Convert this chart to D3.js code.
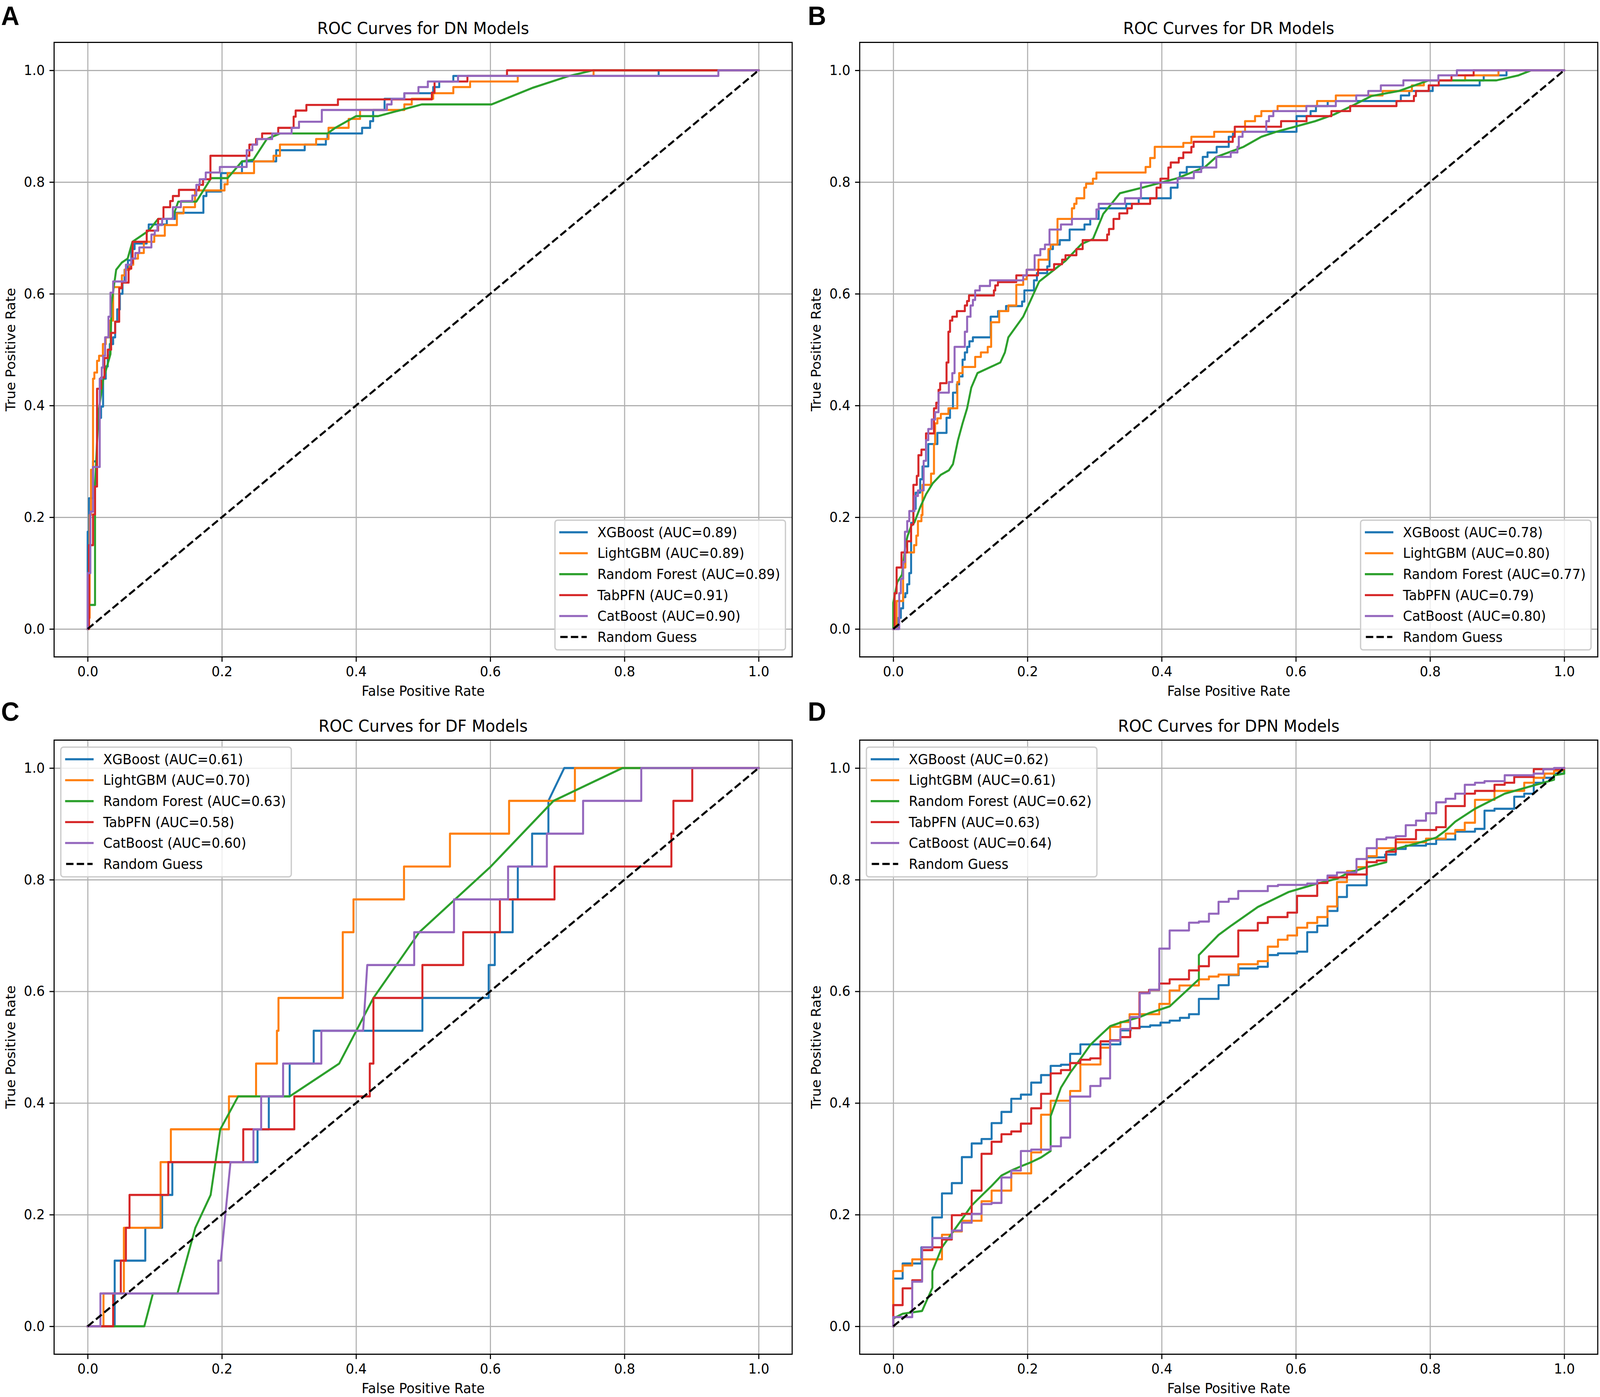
<!DOCTYPE html>
<html><head><meta charset="utf-8">
<script src="https://cdn.jsdelivr.net/npm/d3@7"></script>
<style>html,body{margin:0;padding:0;background:#fff;width:100%;height:100%;overflow:hidden}svg{display:block;width:100vw;height:100vh}</style>
</head><body>
<svg id="chart" viewBox="0 0 4288 3576" preserveAspectRatio="none"></svg>
<script>
// ---------------- DATA ----------------
const modelNames = ["XGBoost", "LightGBM", "Random Forest", "TabPFN", "CatBoost"];
const guessLabel = "Random Guess";
const panelTitles = ["ROC Curves for DN Models", "ROC Curves for DR Models", "ROC Curves for DF Models", "ROC Curves for DPN Models"];
const panelLetters = ["A", "B", "C", "D"];
const axisLabelX = "False Positive Rate";
const axisLabelY = "True Positive Rate";
const tickValues = [0, 0.2, 0.4, 0.6, 0.8, 1.0];
const aucDN  = [0.89, 0.89, 0.89, 0.91, 0.90];
const aucDR  = [0.78, 0.80, 0.77, 0.79, 0.80];
const aucDF  = [0.61, 0.70, 0.63, 0.58, 0.60];
const aucDPN = [0.62, 0.61, 0.62, 0.63, 0.64];
const guessLine = [[0, 0], [1, 1]];

// DN panel (fpr, tpr)
const dnXGBoost = [[0,0],[0,0.174],[0.002,0.174],[0.002,0.234],[0.008,0.234],[0.008,0.3],[0.014,0.3],[0.014,0.378],[0.02,0.378],[0.02,0.398],[0.023,0.398],[0.023,0.448],[0.027,0.448],[0.027,0.47],[0.03,0.47],[0.03,0.49],[0.033,0.49],[0.033,0.51],[0.038,0.51],[0.038,0.522],[0.041,0.522],[0.041,0.55],[0.044,0.55],[0.044,0.572],[0.048,0.572],[0.048,0.6],[0.052,0.6],[0.052,0.62],[0.055,0.62],[0.055,0.643],[0.06,0.643],[0.06,0.66],[0.065,0.66],[0.065,0.68],[0.07,0.68],[0.07,0.69],[0.088,0.69],[0.088,0.713],[0.091,0.713],[0.091,0.724],[0.118,0.724],[0.118,0.734],[0.13,0.734],[0.13,0.745],[0.1725,0.745],[0.1725,0.775],[0.177,0.775],[0.177,0.783],[0.1986,0.783],[0.1986,0.816],[0.23,0.816],[0.23,0.837],[0.281,0.837],[0.281,0.857],[0.3235,0.857],[0.3235,0.867],[0.355,0.867],[0.355,0.877],[0.3575,0.877],[0.3575,0.887],[0.409,0.887],[0.409,0.897],[0.421,0.897],[0.421,0.909],[0.4255,0.909],[0.4255,0.929],[0.4425,0.929],[0.4425,0.949],[0.472,0.949],[0.472,0.959],[0.515,0.959],[0.515,0.97],[0.524,0.97],[0.524,0.98],[0.545,0.98],[0.545,0.99],[0.851,0.99],[0.851,1],[1,1]];
const dnLightGBM = [[0,0],[0.002,0],[0.002,0.02],[0.003,0.02],[0.003,0.204],[0.005,0.204],[0.005,0.285],[0.008,0.285],[0.008,0.448],[0.01,0.448],[0.01,0.459],[0.014,0.459],[0.014,0.48],[0.017,0.48],[0.017,0.489],[0.0227,0.489],[0.0227,0.51],[0.027,0.51],[0.027,0.522],[0.0326,0.522],[0.0326,0.552],[0.038,0.552],[0.038,0.612],[0.051,0.612],[0.051,0.633],[0.0553,0.633],[0.0553,0.643],[0.0624,0.643],[0.0624,0.652],[0.068,0.652],[0.068,0.663],[0.075,0.663],[0.075,0.673],[0.0837,0.673],[0.0837,0.693],[0.0993,0.693],[0.0993,0.704],[0.115,0.704],[0.115,0.723],[0.133,0.723],[0.133,0.744],[0.143,0.744],[0.143,0.755],[0.16,0.755],[0.16,0.785],[0.204,0.785],[0.204,0.796],[0.2086,0.796],[0.2086,0.816],[0.248,0.816],[0.248,0.837],[0.277,0.837],[0.277,0.847],[0.2866,0.847],[0.2866,0.867],[0.3405,0.867],[0.3405,0.877],[0.359,0.877],[0.359,0.897],[0.389,0.897],[0.389,0.913],[0.406,0.913],[0.406,0.929],[0.472,0.929],[0.472,0.939],[0.483,0.939],[0.483,0.949],[0.515,0.949],[0.515,0.959],[0.545,0.959],[0.545,0.97],[0.57,0.97],[0.57,0.98],[0.641,0.98],[0.641,0.99],[0.754,0.99],[0.754,1],[1,1]];
const dnRandomForest = [[0,0],[0.001,0.043],[0.011,0.043],[0.011,0.258],[0.0142,0.338],[0.017,0.395],[0.023,0.445],[0.03,0.475],[0.034,0.492],[0.0355,0.582],[0.0425,0.643],[0.051,0.656],[0.0596,0.663],[0.0667,0.693],[0.091,0.713],[0.105,0.734],[0.126,0.734],[0.135,0.765],[0.162,0.765],[0.184,0.807],[0.2086,0.807],[0.23,0.837],[0.247,0.84],[0.267,0.877],[0.287,0.887],[0.3575,0.887],[0.369,0.897],[0.4,0.918],[0.433,0.918],[0.498,0.939],[0.602,0.939],[0.664,0.969],[0.715,0.989],[0.753,1],[1,1]];
const dnTabPFN = [[0,0],[0.002,0],[0.002,0.15],[0.008,0.15],[0.008,0.205],[0.011,0.205],[0.011,0.255],[0.014,0.255],[0.014,0.43],[0.02,0.43],[0.02,0.45],[0.025,0.45],[0.025,0.485],[0.03,0.485],[0.03,0.5],[0.035,0.5],[0.035,0.53],[0.041,0.53],[0.041,0.55],[0.047,0.55],[0.047,0.61],[0.051,0.61],[0.051,0.62],[0.061,0.62],[0.061,0.645],[0.065,0.645],[0.065,0.655],[0.067,0.655],[0.067,0.693],[0.088,0.693],[0.088,0.713],[0.105,0.713],[0.105,0.734],[0.113,0.734],[0.113,0.755],[0.123,0.755],[0.123,0.766],[0.127,0.766],[0.127,0.775],[0.136,0.775],[0.136,0.786],[0.166,0.786],[0.166,0.795],[0.172,0.795],[0.172,0.805],[0.183,0.805],[0.183,0.847],[0.241,0.847],[0.241,0.867],[0.251,0.867],[0.251,0.877],[0.26,0.877],[0.26,0.887],[0.284,0.887],[0.284,0.897],[0.307,0.897],[0.307,0.917],[0.31,0.917],[0.31,0.928],[0.326,0.928],[0.326,0.938],[0.373,0.938],[0.373,0.948],[0.513,0.948],[0.513,0.96],[0.517,0.96],[0.517,0.98],[0.566,0.98],[0.566,0.99],[0.625,0.99],[0.625,1],[1,1]];
const dnCatBoost = [[0,0],[0,0.1],[0.004,0.1],[0.004,0.21],[0.008,0.21],[0.008,0.29],[0.018,0.29],[0.018,0.448],[0.021,0.448],[0.021,0.468],[0.023,0.468],[0.023,0.489],[0.026,0.489],[0.026,0.522],[0.031,0.522],[0.031,0.559],[0.034,0.559],[0.034,0.602],[0.038,0.602],[0.038,0.622],[0.057,0.622],[0.057,0.652],[0.065,0.652],[0.065,0.663],[0.071,0.663],[0.071,0.673],[0.077,0.673],[0.077,0.683],[0.095,0.683],[0.095,0.706],[0.1,0.706],[0.1,0.713],[0.104,0.713],[0.104,0.723],[0.111,0.723],[0.111,0.734],[0.127,0.734],[0.127,0.755],[0.139,0.755],[0.139,0.766],[0.156,0.766],[0.156,0.776],[0.162,0.776],[0.162,0.795],[0.167,0.795],[0.167,0.805],[0.176,0.805],[0.176,0.817],[0.197,0.817],[0.197,0.827],[0.237,0.827],[0.237,0.857],[0.2455,0.857],[0.2455,0.867],[0.2525,0.867],[0.2525,0.877],[0.275,0.877],[0.275,0.887],[0.304,0.887],[0.304,0.897],[0.315,0.897],[0.315,0.908],[0.349,0.908],[0.349,0.929],[0.446,0.929],[0.446,0.939],[0.453,0.939],[0.453,0.949],[0.472,0.949],[0.472,0.959],[0.493,0.959],[0.493,0.97],[0.507,0.97],[0.507,0.98],[0.552,0.98],[0.552,0.99],[0.94,0.99],[0.94,1],[1,1]];

// DR panel
const drXGBoost = [[0,0],[0.008,0],[0.008,0.02],[0.0113,0.02],[0.0113,0.037],[0.0147,0.037],[0.0147,0.057],[0.0181,0.057],[0.0181,0.064],[0.0208,0.064],[0.0208,0.08],[0.0239,0.08],[0.0239,0.1],[0.0266,0.1],[0.0266,0.19],[0.03,0.19],[0.03,0.215],[0.0334,0.215],[0.0334,0.244],[0.0402,0.244],[0.0402,0.268],[0.0436,0.268],[0.0436,0.291],[0.0522,0.291],[0.0522,0.331],[0.0658,0.331],[0.0658,0.351],[0.0794,0.351],[0.0794,0.378],[0.0846,0.378],[0.0846,0.395],[0.089,0.395],[0.089,0.423],[0.0948,0.423],[0.0948,0.438],[0.0982,0.438],[0.0982,0.452],[0.1033,0.452],[0.1033,0.482],[0.1067,0.482],[0.1067,0.495],[0.1101,0.495],[0.1101,0.505],[0.1135,0.505],[0.1135,0.515],[0.1187,0.515],[0.1187,0.522],[0.1452,0.522],[0.1452,0.559],[0.1562,0.559],[0.1562,0.569],[0.1681,0.569],[0.1681,0.578],[0.192,0.578],[0.192,0.586],[0.1954,0.586],[0.1954,0.606],[0.2097,0.606],[0.2097,0.624],[0.2141,0.624],[0.2141,0.637],[0.2295,0.637],[0.2295,0.649],[0.2329,0.649],[0.2329,0.68],[0.238,0.68],[0.238,0.688],[0.2482,0.688],[0.2482,0.696],[0.2629,0.696],[0.2629,0.715],[0.285,0.715],[0.285,0.724],[0.2936,0.724],[0.2936,0.734],[0.3062,0.734],[0.3062,0.753],[0.3471,0.753],[0.3471,0.761],[0.3658,0.761],[0.3658,0.771],[0.4136,0.771],[0.4136,0.79],[0.4238,0.79],[0.4238,0.806],[0.4272,0.806],[0.4272,0.817],[0.4374,0.817],[0.4374,0.827],[0.4613,0.827],[0.4613,0.845],[0.4684,0.845],[0.4684,0.853],[0.482,0.853],[0.482,0.863],[0.5,0.863],[0.5,0.881],[0.5063,0.881],[0.5063,0.89],[0.601,0.89],[0.601,0.918],[0.622,0.918],[0.622,0.927],[0.63,0.927],[0.63,0.936],[0.6475,0.936],[0.6475,0.945],[0.7565,0.945],[0.7565,0.955],[0.769,0.955],[0.769,0.963],[0.804,0.963],[0.804,0.973],[0.874,0.973],[0.874,0.982],[0.88,0.982],[0.88,0.991],[0.914,0.991],[0.914,1],[1,1]];
const drLightGBM = [[0,0],[0.005,0],[0.005,0.05],[0.0147,0.05],[0.0147,0.11],[0.0181,0.11],[0.0181,0.137],[0.031,0.137],[0.031,0.15],[0.0344,0.15],[0.0344,0.167],[0.0368,0.167],[0.0368,0.193],[0.042,0.193],[0.042,0.204],[0.0436,0.204],[0.0436,0.258],[0.0563,0.258],[0.0563,0.278],[0.0607,0.278],[0.0607,0.331],[0.0624,0.331],[0.0624,0.368],[0.0658,0.368],[0.0658,0.377],[0.0709,0.377],[0.0709,0.385],[0.0822,0.385],[0.0822,0.395],[0.0955,0.395],[0.0955,0.442],[0.0982,0.442],[0.0982,0.458],[0.1033,0.458],[0.1033,0.469],[0.1221,0.469],[0.1221,0.487],[0.1306,0.487],[0.1306,0.495],[0.1408,0.495],[0.1408,0.505],[0.1459,0.505],[0.1459,0.549],[0.1579,0.549],[0.1579,0.569],[0.1715,0.569],[0.1715,0.579],[0.1834,0.579],[0.1834,0.616],[0.1937,0.616],[0.1937,0.626],[0.1988,0.626],[0.1988,0.643],[0.2165,0.643],[0.2165,0.661],[0.2312,0.661],[0.2312,0.68],[0.2346,0.68],[0.2346,0.688],[0.2448,0.688],[0.2448,0.734],[0.2663,0.734],[0.2663,0.753],[0.2697,0.753],[0.2697,0.761],[0.2731,0.761],[0.2731,0.771],[0.2847,0.771],[0.2847,0.79],[0.2874,0.79],[0.2874,0.797],[0.2976,0.797],[0.2976,0.806],[0.3028,0.806],[0.3028,0.817],[0.3761,0.817],[0.3761,0.827],[0.3829,0.827],[0.3829,0.843],[0.3897,0.843],[0.3897,0.863],[0.4323,0.863],[0.4323,0.87],[0.4443,0.87],[0.4443,0.881],[0.4783,0.881],[0.4783,0.89],[0.5243,0.89],[0.5243,0.909],[0.5392,0.909],[0.5392,0.918],[0.5486,0.918],[0.5486,0.927],[0.5728,0.927],[0.5728,0.936],[0.6317,0.936],[0.6317,0.945],[0.6596,0.945],[0.6596,0.955],[0.7293,0.955],[0.7293,0.963],[0.773,0.963],[0.773,0.973],[0.7908,0.973],[0.7908,0.982],[0.8523,0.982],[0.8523,0.991],[0.902,0.991],[0.902,1],[1,1]];
const drRandomForest = [[0,0],[0,0.047],[0.0061,0.084],[0.013,0.097],[0.0181,0.15],[0.0215,0.167],[0.0266,0.184],[0.0317,0.191],[0.0402,0.218],[0.0488,0.241],[0.059,0.261],[0.0709,0.276],[0.0829,0.284],[0.089,0.295],[0.0965,0.338],[0.1033,0.368],[0.1101,0.395],[0.1163,0.432],[0.1255,0.458],[0.1596,0.477],[0.1664,0.495],[0.1715,0.522],[0.1937,0.559],[0.2175,0.622],[0.2397,0.643],[0.2567,0.659],[0.2806,0.689],[0.2976,0.698],[0.313,0.743],[0.3379,0.78],[0.371,0.79],[0.4238,0.807],[0.4647,0.827],[0.4815,0.845],[0.522,0.863],[0.5486,0.881],[0.571,0.89],[0.629,0.909],[0.657,0.921],[0.6865,0.938],[0.7126,0.954],[0.7535,0.963],[0.798,0.982],[0.899,0.982],[0.932,0.991],[0.951,1],[1,1]];
const drTabPFN = [[0,0],[0.002,0],[0.002,0.064],[0.005,0.064],[0.005,0.11],[0.0123,0.11],[0.0123,0.137],[0.0208,0.137],[0.0208,0.157],[0.0266,0.157],[0.0266,0.187],[0.03,0.187],[0.03,0.258],[0.0351,0.258],[0.0351,0.274],[0.0375,0.274],[0.0375,0.311],[0.042,0.311],[0.042,0.321],[0.0488,0.321],[0.0488,0.35],[0.0607,0.35],[0.0607,0.395],[0.0641,0.395],[0.0641,0.405],[0.0675,0.405],[0.0675,0.428],[0.0699,0.428],[0.0699,0.44],[0.0794,0.44],[0.0794,0.477],[0.0822,0.477],[0.0822,0.532],[0.0846,0.532],[0.0846,0.552],[0.088,0.552],[0.088,0.559],[0.0948,0.559],[0.0948,0.569],[0.1067,0.569],[0.1067,0.579],[0.11,0.579],[0.11,0.587],[0.1129,0.587],[0.1129,0.597],[0.15,0.597],[0.15,0.606],[0.152,0.606],[0.152,0.615],[0.156,0.615],[0.156,0.621],[0.1834,0.621],[0.1834,0.633],[0.2158,0.633],[0.2158,0.643],[0.2397,0.643],[0.2397,0.653],[0.2516,0.653],[0.2516,0.661],[0.2567,0.661],[0.2567,0.669],[0.273,0.669],[0.273,0.68],[0.2823,0.68],[0.2823,0.696],[0.3188,0.696],[0.3188,0.706],[0.3215,0.706],[0.3215,0.716],[0.3283,0.716],[0.3283,0.734],[0.3369,0.734],[0.3369,0.744],[0.3488,0.744],[0.3488,0.753],[0.3556,0.753],[0.3556,0.761],[0.3829,0.761],[0.3829,0.771],[0.3924,0.771],[0.3924,0.79],[0.3982,0.79],[0.3982,0.806],[0.41,0.806],[0.41,0.826],[0.4136,0.826],[0.4136,0.835],[0.4255,0.835],[0.4255,0.843],[0.4323,0.843],[0.4323,0.853],[0.4443,0.853],[0.4443,0.863],[0.4477,0.863],[0.4477,0.872],[0.506,0.872],[0.506,0.881],[0.509,0.881],[0.509,0.899],[0.578,0.899],[0.578,0.909],[0.616,0.909],[0.616,0.918],[0.653,0.918],[0.653,0.927],[0.681,0.927],[0.681,0.936],[0.75,0.936],[0.75,0.945],[0.776,0.945],[0.776,0.954],[0.779,0.954],[0.779,0.963],[0.798,0.963],[0.798,0.973],[0.813,0.973],[0.813,0.982],[0.832,0.982],[0.832,0.991],[0.865,0.991],[0.865,1],[1,1]];
const drCatBoost = [[0,0],[0.0089,0],[0.0089,0.064],[0.0113,0.064],[0.0113,0.09],[0.0147,0.09],[0.0147,0.12],[0.0174,0.12],[0.0174,0.174],[0.0208,0.174],[0.0208,0.193],[0.0239,0.193],[0.0239,0.211],[0.0317,0.211],[0.0317,0.238],[0.0368,0.238],[0.0368,0.248],[0.0453,0.248],[0.0453,0.301],[0.0488,0.301],[0.0488,0.338],[0.0522,0.338],[0.0522,0.358],[0.0573,0.358],[0.0573,0.375],[0.0624,0.375],[0.0624,0.388],[0.0675,0.388],[0.0675,0.423],[0.0829,0.423],[0.0829,0.442],[0.088,0.442],[0.088,0.458],[0.0914,0.458],[0.0914,0.505],[0.1067,0.505],[0.1067,0.532],[0.1101,0.532],[0.1101,0.559],[0.1152,0.559],[0.1152,0.579],[0.1187,0.579],[0.1187,0.589],[0.1221,0.589],[0.1221,0.606],[0.1289,0.606],[0.1289,0.614],[0.1442,0.614],[0.1442,0.624],[0.1937,0.624],[0.1937,0.633],[0.1988,0.633],[0.1988,0.643],[0.2107,0.643],[0.2107,0.669],[0.2192,0.669],[0.2192,0.68],[0.2261,0.68],[0.2261,0.688],[0.2329,0.688],[0.2329,0.715],[0.2499,0.715],[0.2499,0.724],[0.2663,0.724],[0.2663,0.734],[0.3028,0.734],[0.3028,0.751],[0.3062,0.751],[0.3062,0.761],[0.3454,0.761],[0.3454,0.771],[0.3692,0.771],[0.3692,0.799],[0.4238,0.799],[0.4238,0.807],[0.448,0.807],[0.448,0.818],[0.459,0.818],[0.459,0.826],[0.4815,0.826],[0.4815,0.845],[0.503,0.845],[0.503,0.853],[0.513,0.853],[0.513,0.863],[0.515,0.863],[0.515,0.881],[0.5206,0.881],[0.5206,0.89],[0.556,0.89],[0.556,0.909],[0.56,0.909],[0.56,0.918],[0.5665,0.918],[0.5665,0.927],[0.6157,0.927],[0.6157,0.936],[0.6596,0.936],[0.6596,0.945],[0.69,0.945],[0.69,0.955],[0.708,0.955],[0.708,0.963],[0.7267,0.963],[0.7267,0.973],[0.7603,0.973],[0.7603,0.982],[0.8124,0.982],[0.8124,0.991],[0.84,0.991],[0.84,1],[1,1]];

// DF panel
const dfXGBoost = [[0,0],[0.0403,0],[0.0403,0.1176],[0.0859,0.1176],[0.0859,0.1765],[0.111,0.1765],[0.111,0.2353],[0.1262,0.2353],[0.1262,0.2941],[0.2532,0.2941],[0.2532,0.3529],[0.27,0.3529],[0.27,0.4118],[0.3011,0.4118],[0.3011,0.4706],[0.3369,0.4706],[0.3369,0.5294],[0.4989,0.5294],[0.4989,0.5882],[0.5977,0.5882],[0.5977,0.6471],[0.6068,0.6471],[0.6068,0.7059],[0.6335,0.7059],[0.6335,0.7647],[0.6411,0.7647],[0.6411,0.8235],[0.6624,0.8235],[0.6624,0.8824],[0.6867,0.8824],[0.6867,0.9412],[0.7103,1],[1,1]];
const dfLightGBM = [[0,0],[0.0236,0],[0.0236,0.0588],[0.054,0.0588],[0.054,0.1765],[0.1087,0.1765],[0.1087,0.2941],[0.124,0.2941],[0.124,0.3529],[0.2106,0.3529],[0.2106,0.4118],[0.251,0.4118],[0.251,0.4706],[0.2821,0.4706],[0.2821,0.5294],[0.2844,0.5294],[0.2844,0.5882],[0.3802,0.5882],[0.3802,0.7059],[0.3962,0.7059],[0.3962,0.7647],[0.4715,0.7647],[0.4715,0.8235],[0.54,0.8235],[0.54,0.8824],[0.6281,0.8824],[0.6281,0.9412],[0.7262,0.9412],[0.7262,1],[1,1]];
const dfRandomForest = [[0,0],[0.0844,0],[0.0973,0.0588],[0.1338,0.0588],[0.1605,0.1765],[0.1833,0.2353],[0.1977,0.3529],[0.2243,0.4118],[0.3011,0.4118],[0.3749,0.4706],[0.4259,0.5882],[0.4943,0.7059],[0.6008,0.8235],[0.6943,0.9412],[0.797,1],[1,1]];
const dfTabPFN = [[0,0],[0.038,0],[0.038,0.0588],[0.0494,0.0588],[0.0494,0.1176],[0.057,0.1176],[0.057,0.1765],[0.0624,0.1765],[0.0624,0.2353],[0.1202,0.2353],[0.1202,0.2941],[0.2319,0.2941],[0.2319,0.3529],[0.308,0.3529],[0.308,0.4118],[0.4205,0.4118],[0.4205,0.4706],[0.4259,0.4706],[0.4259,0.5882],[0.4989,0.5882],[0.4989,0.6471],[0.5597,0.6471],[0.5597,0.7059],[0.6144,0.7059],[0.6144,0.7647],[0.6958,0.7647],[0.6958,0.8235],[0.87,0.8235],[0.87,0.8824],[0.873,0.8824],[0.873,0.9412],[0.9011,0.9412],[0.9011,1],[1,1]];
const dfCatBoost = [[0,0],[0.019,0],[0.019,0.0588],[0.1947,0.0588],[0.1947,0.1176],[0.1985,0.1176],[0.2129,0.2941],[0.2471,0.2941],[0.2471,0.3529],[0.2586,0.3529],[0.2586,0.4118],[0.2913,0.4118],[0.2913,0.4706],[0.3483,0.4706],[0.3483,0.5294],[0.4106,0.5294],[0.4167,0.6471],[0.4867,0.6471],[0.4867,0.7059],[0.546,0.7059],[0.546,0.7647],[0.6266,0.7647],[0.6266,0.8235],[0.6844,0.8235],[0.6844,0.8824],[0.7384,0.8824],[0.7384,0.9412],[0.8251,0.9412],[0.8251,1],[1,1]];

// DPN panel
const dpnXGBoost = [[0,0],[0,0.0855],[0.014,0.0855],[0.014,0.1125],[0.0419,0.1125],[0.0419,0.1415],[0.0583,0.1415],[0.0583,0.195],[0.0726,0.195],[0.0726,0.238],[0.0873,0.238],[0.0873,0.2565],[0.1023,0.2565],[0.1023,0.303],[0.1169,0.303],[0.1169,0.3275],[0.1316,0.3275],[0.1316,0.3355],[0.1466,0.3355],[0.1466,0.364],[0.1613,0.364],[0.1613,0.384],[0.1759,0.384],[0.1759,0.4075],[0.1902,0.4075],[0.1902,0.415],[0.2056,0.415],[0.2056,0.4365],[0.2203,0.4365],[0.2203,0.45],[0.2346,0.45],[0.2346,0.4665],[0.2499,0.4665],[0.2499,0.4685],[0.2636,0.4685],[0.2636,0.488],[0.2789,0.488],[0.2789,0.505],[0.3386,0.505],[0.3386,0.53],[0.3539,0.53],[0.3539,0.534],[0.3675,0.534],[0.3675,0.5365],[0.3829,0.5365],[0.3829,0.539],[0.3982,0.539],[0.3982,0.544],[0.4119,0.544],[0.4119,0.5475],[0.4272,0.5475],[0.4272,0.5525],[0.4408,0.5525],[0.4408,0.559],[0.4555,0.559],[0.4555,0.5865],[0.4848,0.5865],[0.4848,0.611],[0.5,0.611],[0.5,0.629],[0.5149,0.629],[0.5149,0.641],[0.5433,0.641],[0.5433,0.644],[0.5582,0.644],[0.5582,0.665],[0.5734,0.665],[0.5734,0.668],[0.6018,0.668],[0.6018,0.671],[0.617,0.671],[0.617,0.706],[0.6319,0.706],[0.6319,0.7175],[0.6472,0.7175],[0.6472,0.744],[0.6621,0.744],[0.6621,0.769],[0.6762,0.769],[0.6762,0.79],[0.7057,0.79],[0.7057,0.84],[0.733,0.84],[0.733,0.845],[0.7489,0.845],[0.7489,0.855],[0.7638,0.855],[0.7638,0.861],[0.794,0.861],[0.794,0.864],[0.8092,0.864],[0.8092,0.872],[0.8376,0.872],[0.8376,0.886],[0.867,0.886],[0.867,0.891],[0.8812,0.891],[0.8812,0.9236],[0.8961,0.9236],[0.8961,0.927],[0.9255,0.927],[0.9255,0.9486],[0.9404,0.9486],[0.9404,0.954],[0.9546,0.954],[0.9546,0.9736],[0.9688,0.9736],[0.9688,0.9825],[0.9848,0.9825],[0.9848,0.99],[1,0.99],[1,1]];
const dpnLightGBM = [[0,0],[0,0.099],[0.014,0.099],[0.014,0.109],[0.0283,0.109],[0.0283,0.12],[0.0726,0.12],[0.0726,0.164],[0.0873,0.164],[0.0873,0.17],[0.1023,0.17],[0.1023,0.189],[0.1316,0.189],[0.1316,0.224],[0.1466,0.224],[0.1466,0.243],[0.1759,0.243],[0.1759,0.274],[0.2056,0.274],[0.2056,0.3115],[0.2203,0.3115],[0.2203,0.379],[0.2346,0.379],[0.2346,0.404],[0.2636,0.404],[0.2636,0.4215],[0.2789,0.4215],[0.2789,0.469],[0.3089,0.469],[0.3089,0.499],[0.3232,0.499],[0.3232,0.5365],[0.3386,0.5365],[0.3386,0.545],[0.3522,0.545],[0.3522,0.559],[0.3965,0.559],[0.3965,0.5775],[0.4119,0.5775],[0.4119,0.6015],[0.4265,0.6015],[0.4265,0.6105],[0.4555,0.6105],[0.4555,0.6215],[0.4705,0.6215],[0.4705,0.6265],[0.4848,0.6265],[0.4848,0.63],[0.5142,0.63],[0.5142,0.6486],[0.5433,0.6486],[0.5433,0.654],[0.5582,0.654],[0.5582,0.68],[0.5734,0.68],[0.5734,0.6925],[0.5876,0.6925],[0.5876,0.7],[0.6018,0.7],[0.6018,0.714],[0.617,0.714],[0.617,0.7225],[0.6319,0.7225],[0.6319,0.733],[0.6472,0.733],[0.6472,0.752],[0.6613,0.752],[0.6613,0.7957],[0.6762,0.7957],[0.6762,0.8154],[0.6904,0.8154],[0.6904,0.8225],[0.7057,0.8225],[0.7057,0.842],[0.7206,0.842],[0.7206,0.8564],[0.7489,0.8564],[0.7489,0.867],[0.794,0.867],[0.794,0.8736],[0.8234,0.8736],[0.8234,0.8825],[0.8376,0.8825],[0.8376,0.889],[0.8518,0.889],[0.8518,0.902],[0.867,0.902],[0.867,0.943],[0.8961,0.943],[0.8961,0.959],[0.9404,0.959],[0.9404,0.9736],[0.9546,0.9736],[0.9546,0.9825],[0.9706,0.9825],[0.9706,0.99],[0.9848,0.99],[0.9848,0.995],[1,0.995],[1,1]];
const dpnRandomForest = [[0,0],[0,0.014],[0.014,0.0225],[0.0283,0.025],[0.043,0.0275],[0.0583,0.069],[0.0583,0.099],[0.0726,0.1415],[0.0873,0.1665],[0.1023,0.1915],[0.1169,0.2165],[0.1316,0.234],[0.1466,0.2515],[0.1613,0.27],[0.1759,0.279],[0.1902,0.2865],[0.2056,0.294],[0.2203,0.3025],[0.2346,0.314],[0.2346,0.3765],[0.2499,0.4275],[0.2636,0.454],[0.2789,0.479],[0.2936,0.504],[0.3089,0.5215],[0.3232,0.5375],[0.3386,0.544],[0.3675,0.554],[0.3829,0.5615],[0.4119,0.573],[0.4555,0.6215],[0.4555,0.665],[0.4848,0.701],[0.5043,0.7182],[0.5433,0.751],[0.5894,0.778],[0.6319,0.793],[0.662,0.802],[0.676,0.811],[0.7046,0.822],[0.7348,0.8314],[0.7348,0.85],[0.7489,0.855],[0.7791,0.8646],[0.8092,0.8754],[0.8234,0.888],[0.8376,0.904],[0.867,0.927],[0.9113,0.954],[0.9404,0.964],[0.9688,0.9736],[0.9848,0.979],[0.9848,0.987],[1,0.99],[1,1]];
const dpnTabPFN = [[0,0],[0,0.038],[0.014,0.038],[0.014,0.068],[0.0283,0.068],[0.0283,0.0825],[0.043,0.0825],[0.043,0.1365],[0.0583,0.1365],[0.0583,0.1415],[0.0726,0.1415],[0.0726,0.1555],[0.0873,0.1555],[0.0873,0.199],[0.1023,0.199],[0.1023,0.2015],[0.1169,0.2015],[0.1169,0.243],[0.1316,0.243],[0.1316,0.309],[0.1466,0.309],[0.1466,0.3305],[0.1613,0.3305],[0.1613,0.344],[0.1759,0.344],[0.1759,0.349],[0.1902,0.349],[0.1902,0.363],[0.2056,0.363],[0.2056,0.3905],[0.2203,0.3905],[0.2203,0.4165],[0.2346,0.4165],[0.2346,0.453],[0.2499,0.453],[0.2499,0.459],[0.2636,0.459],[0.2636,0.4715],[0.2789,0.4715],[0.2789,0.4775],[0.2936,0.4775],[0.2936,0.48],[0.3089,0.48],[0.3089,0.5105],[0.3232,0.5105],[0.3232,0.5125],[0.3386,0.5125],[0.3386,0.518],[0.3532,0.518],[0.3532,0.534],[0.3669,0.534],[0.3669,0.5975],[0.3812,0.5975],[0.3812,0.6025],[0.3965,0.6025],[0.3965,0.614],[0.4119,0.614],[0.4119,0.6215],[0.4408,0.6215],[0.4408,0.6375],[0.4555,0.6375],[0.4555,0.645],[0.4705,0.645],[0.4705,0.6625],[0.5142,0.6625],[0.5142,0.709],[0.5433,0.709],[0.5433,0.7225],[0.5582,0.7225],[0.5582,0.733],[0.5876,0.733],[0.5876,0.741],[0.6018,0.741],[0.6018,0.771],[0.6319,0.771],[0.6319,0.794],[0.6472,0.794],[0.6472,0.804],[0.6762,0.804],[0.6762,0.8093],[0.7057,0.8093],[0.7057,0.8314],[0.7206,0.8314],[0.7206,0.8343],[0.7348,0.8343],[0.7348,0.85],[0.7489,0.85],[0.7489,0.8725],[0.7791,0.8725],[0.7791,0.889],[0.8092,0.889],[0.8092,0.894],[0.8234,0.894],[0.8234,0.9318],[0.8518,0.9318],[0.8518,0.954],[0.867,0.954],[0.867,0.959],[0.8961,0.959],[0.8961,0.97],[0.9113,0.97],[0.9113,0.9736],[0.9255,0.9736],[0.9255,0.984],[0.9546,0.984],[0.9546,0.998],[1,0.998],[1,1]];
const dpnCatBoost = [[0,0],[0,0.0165],[0.0283,0.0165],[0.0283,0.08],[0.043,0.08],[0.043,0.1415],[0.0583,0.1415],[0.0583,0.158],[0.0873,0.158],[0.0873,0.1715],[0.1023,0.1715],[0.1023,0.1855],[0.1169,0.1855],[0.1169,0.2015],[0.1316,0.2015],[0.1316,0.219],[0.1466,0.219],[0.1466,0.221],[0.1613,0.221],[0.1613,0.2665],[0.1759,0.2665],[0.1759,0.279],[0.1902,0.279],[0.1902,0.314],[0.2056,0.314],[0.2056,0.3165],[0.2346,0.3165],[0.2346,0.3225],[0.2499,0.3225],[0.2499,0.338],[0.2636,0.338],[0.2636,0.4115],[0.2936,0.4115],[0.2936,0.4305],[0.3089,0.4305],[0.3089,0.444],[0.3232,0.444],[0.3232,0.5115],[0.3386,0.5115],[0.3386,0.5325],[0.3532,0.5325],[0.3532,0.554],[0.3675,0.554],[0.3675,0.5965],[0.3822,0.5965],[0.3822,0.603],[0.3965,0.603],[0.3965,0.6765],[0.4119,0.6765],[0.4119,0.709],[0.4408,0.709],[0.4408,0.723],[0.4555,0.723],[0.4555,0.725],[0.4705,0.725],[0.4705,0.739],[0.4848,0.739],[0.4848,0.7604],[0.5,0.7604],[0.5,0.7657],[0.5142,0.7657],[0.5142,0.7796],[0.5582,0.7796],[0.5582,0.7886],[0.5734,0.7886],[0.5734,0.7907],[0.617,0.7907],[0.617,0.793],[0.6319,0.793],[0.6319,0.7993],[0.6472,0.7993],[0.6472,0.8075],[0.6613,0.8075],[0.6613,0.8129],[0.6904,0.8129],[0.6904,0.837],[0.7057,0.837],[0.7057,0.8564],[0.7206,0.8564],[0.7206,0.8725],[0.7348,0.8725],[0.7348,0.8754],[0.7489,0.8754],[0.7489,0.878],[0.7638,0.878],[0.7638,0.8975],[0.7791,0.8975],[0.7791,0.9057],[0.794,0.9057],[0.794,0.919],[0.8092,0.919],[0.8092,0.9386],[0.8234,0.9386],[0.8234,0.945],[0.8376,0.945],[0.8376,0.954],[0.8518,0.954],[0.8518,0.97],[0.867,0.97],[0.867,0.9736],[0.8812,0.9736],[0.8812,0.9764],[0.9113,0.9764],[0.9113,0.987],[0.9546,0.987],[0.9546,0.99],[0.9688,0.99],[0.9688,0.998],[0.9848,0.998],[0.9848,1],[1,1]];

// ---------------- DRAWING ----------------
const panelCurves = [
  [dnXGBoost, dnLightGBM, dnRandomForest, dnTabPFN, dnCatBoost],
  [drXGBoost, drLightGBM, drRandomForest, drTabPFN, drCatBoost],
  [dfXGBoost, dfLightGBM, dfRandomForest, dfTabPFN, dfCatBoost],
  [dpnXGBoost, dpnLightGBM, dpnRandomForest, dpnTabPFN, dpnCatBoost]
];
const panelAucs = [aucDN, aucDR, aucDF, aucDPN];

const colors = ["#1f77b4", "#ff7f0e", "#2ca02c", "#d62728", "#9467bd"];
const FONT = "DejaVu Sans";
const FS = 35.5;          // 10pt
const TITLE_FS = 42.6;    // 12pt
const LW = 5.35;          // 1.5pt
const DASH = "19.8,8.6";
const TICK = 12.4;
const layout = [
  {left: 145, right: 2123, top: 108.5, bottom: 1681.5, legend: "lr", lx: 3, ly: 64},
  {left: 2304, right: 4282, top: 108.5, bottom: 1681.5, legend: "lr", lx: 2165, ly: 64},
  {left: 145, right: 2123, top: 1894.5, bottom: 3466.5, legend: "ul", lx: 3, ly: 1845},
  {left: 2304, right: 4282, top: 1894.5, bottom: 3466.5, legend: "ul", lx: 2165, ly: 1845}
];

const svg = d3.select("#chart");
svg.append("rect").attr("width", 4288).attr("height", 3576).attr("fill", "#fff");

panelCurves.forEach((curves, i) => {
  const L = layout[i];
  const x = d3.scaleLinear().domain([-0.05, 1.05]).range([L.left, L.right]);
  const y = d3.scaleLinear().domain([-0.05, 1.05]).range([L.bottom, L.top]);
  const g = svg.append("g");

  // grid
  const gx = g.append("g").attr("transform", `translate(0,${L.bottom})`)
    .call(d3.axisBottom(x).tickValues(tickValues).tickSize(-(L.bottom - L.top)).tickFormat(""));
  const gy = g.append("g").attr("transform", `translate(${L.left},0)`)
    .call(d3.axisLeft(y).tickValues(tickValues).tickSize(-(L.right - L.left)).tickFormat(""));
  [gx, gy].forEach(a => {
    a.select(".domain").remove();
    a.selectAll("line").attr("stroke", "#b0b0b0").attr("stroke-width", 2.9);
  });

  // curves
  const line = d3.line().x(d => x(d[0])).y(d => y(d[1]));
  curves.forEach((c, k) => {
    g.append("path").datum(c).attr("d", line)
      .attr("fill", "none").attr("stroke", colors[k]).attr("stroke-width", LW)
      .attr("stroke-linejoin", "round").attr("stroke-linecap", "square");
  });
  g.append("path").datum(guessLine).attr("d", line)
    .attr("fill", "none").attr("stroke", "#000").attr("stroke-width", LW)
    .attr("stroke-dasharray", DASH);

  // spines
  g.append("rect").attr("x", L.left).attr("y", L.top)
    .attr("width", L.right - L.left).attr("height", L.bottom - L.top)
    .attr("fill", "none").attr("stroke", "#000").attr("stroke-width", 2.9);

  // tick axes
  const ax = g.append("g").attr("transform", `translate(0,${L.bottom})`)
    .call(d3.axisBottom(x).tickValues(tickValues).tickFormat(d3.format(".1f")).tickSize(TICK).tickPadding(TICK));
  const ay = g.append("g").attr("transform", `translate(${L.left},0)`)
    .call(d3.axisLeft(y).tickValues(tickValues).tickFormat(d3.format(".1f")).tickSize(TICK).tickPadding(TICK));
  [ax, ay].forEach(a => {
    a.select(".domain").remove();
    a.selectAll("line").attr("stroke", "#000").attr("stroke-width", 2.9);
    a.selectAll("text").attr("font-family", FONT).attr("font-size", FS).attr("fill", "#000");
  });

  // title
  g.append("text").attr("x", (L.left + L.right) / 2).attr("y", L.top - 21)
    .attr("text-anchor", "middle").attr("font-family", FONT).attr("font-size", TITLE_FS)
    .attr("fill", "#000").text(panelTitles[i]);
  // axis labels
  g.append("text").attr("x", (L.left + L.right) / 2).attr("y", L.bottom + 100)
    .attr("text-anchor", "middle").attr("font-family", FONT).attr("font-size", FS)
    .attr("fill", "#000").text(axisLabelX);
  g.append("text").attr("transform", `translate(${L.left - 104},${(L.top + L.bottom) / 2}) rotate(-90)`)
    .attr("text-anchor", "middle").attr("font-family", FONT).attr("font-size", FS)
    .attr("fill", "#000").text(axisLabelY);

  // panel letter
  svg.append("text").attr("x", L.lx).attr("y", L.ly)
    .attr("font-family", "Liberation Sans, Arial, sans-serif").attr("font-weight", "bold")
    .attr("font-size", 68).attr("fill", "#000").text(panelLetters[i]);

  // legend
  const labels = modelNames.map((n, k) => `${n} (AUC=${panelAucs[i][k].toFixed(2)})`).concat([guessLabel]);
  const lg = g.append("g");
  const pad = 0.4 * FS, handleLen = 2.0 * FS, textPad = 0.8 * FS, rowH = 53.6;
  const frame = lg.append("rect");
  const texts = lg.selectAll("text.leg").data(labels).join("text").attr("class", "leg")
    .attr("font-family", FONT).attr("font-size", FS).attr("fill", "#000").text(d => d);
  let maxW = 0;
  texts.each(function () { maxW = Math.max(maxW, this.getComputedTextLength()); });
  const boxW = pad + handleLen + textPad + maxW + pad;
  const boxH = 332;
  const bx = L.legend === "lr" ? L.right - 18 - boxW : L.left + 18;
  const by = L.legend === "lr" ? L.bottom - 18 - boxH : L.top + 18;
  frame.attr("x", bx).attr("y", by).attr("width", boxW).attr("height", boxH)
    .attr("rx", 7).attr("ry", 7)
    .attr("fill", "#fff").attr("fill-opacity", 0.8)
    .attr("stroke", "#cccccc").attr("stroke-width", 3.5);
  texts.attr("x", bx + pad + handleLen + textPad)
    .attr("y", (d, k) => by + 31 + k * rowH + 12.4);
  labels.forEach((d, k) => {
    const cy = by + 31 + k * rowH;
    const hl = lg.append("line").attr("x1", bx + pad).attr("x2", bx + pad + handleLen)
      .attr("y1", cy).attr("y2", cy).attr("stroke-width", LW);
    if (k < 5) hl.attr("stroke", colors[k]).attr("stroke-linecap", "square");
    else hl.attr("stroke", "#000").attr("stroke-dasharray", DASH);
  });
});
</script>
</body></html>
